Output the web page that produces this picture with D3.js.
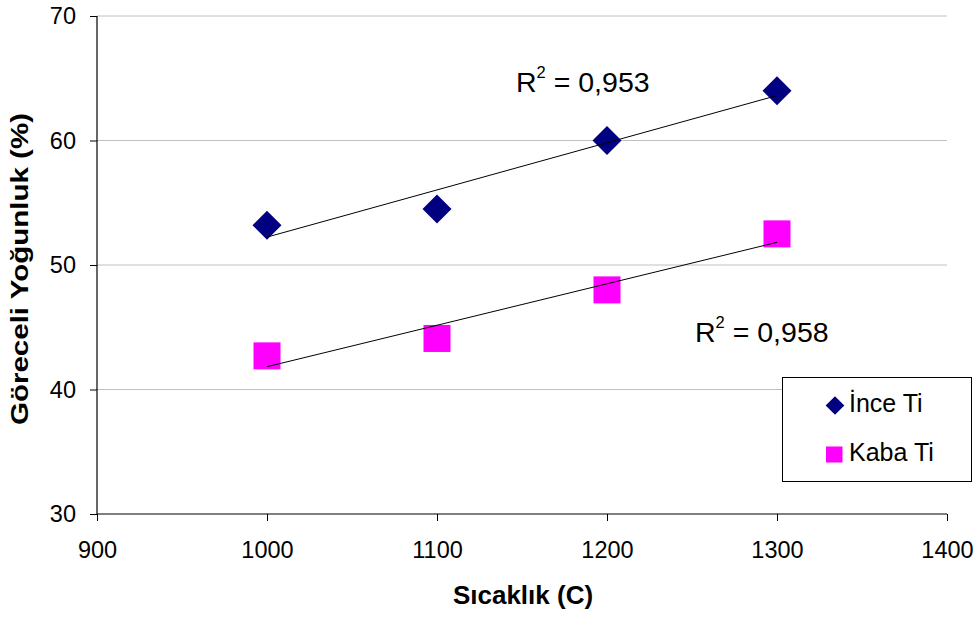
<!DOCTYPE html>
<html>
<head>
<meta charset="utf-8">
<script src="https://cdn.jsdelivr.net/npm/d3@7"></script>
<style>
  html, body { margin: 0; padding: 0; background: #fff; }
  svg { display: block; font-family: "Liberation Sans", Arial, sans-serif; }
</style>
</head>
<body>
<svg id="chart" width="978" height="619"></svg>
<script>
const temperatures = [1000, 1100, 1200, 1300];
const inceTi = [53.2, 54.5, 60.0, 64.0];
const kabaTi = [42.7, 44.1, 48.0, 52.5];
const seriesNames = ["İnce Ti", "Kaba Ti"];
const r2Labels = ["0,953", "0,958"];
const xTicks = [900, 1000, 1100, 1200, 1300, 1400];
const yTicks = [30, 40, 50, 60, 70];

const svg = d3.select("#chart");
const m = { left: 97, right: 947, top: 16, bottom: 514 };
const x = d3.scaleLinear().domain([900, 1400]).range([m.left, m.right]);
const y = d3.scaleLinear().domain([30, 70]).range([m.bottom, m.top]);

// gridlines
svg.append("g").selectAll("line").data(yTicks.filter(d => d > 30)).join("line")
  .attr("x1", m.left).attr("x2", m.right)
  .attr("y1", d => y(d)).attr("y2", d => y(d))
  .attr("stroke", "#c0c0c0").attr("stroke-width", 1);

// axes
const yAxis = svg.append("g").attr("transform", `translate(${m.left},0)`)
  .call(d3.axisLeft(y).tickValues(yTicks).tickSize(7).tickPadding(14).tickFormat(d3.format("d")));
const xAxis = svg.append("g").attr("transform", `translate(0,${m.bottom})`)
  .call(d3.axisBottom(x).tickValues(xTicks).tickSize(7).tickPadding(20).tickFormat(d3.format("d")));
[xAxis, yAxis].forEach(a => {
  a.select(".domain").attr("stroke", "#000").attr("stroke-width", 1.2);
  a.selectAll(".tick line").attr("stroke", "#000");
  a.selectAll("text").attr("font-size", 23.5).attr("fill", "#000")
    .attr("font-family", "Liberation Sans, Arial, sans-serif");
});
xAxis.select(".domain").attr("d", `M${m.left},0H${m.right}`);
yAxis.select(".domain").attr("d", `M0,${m.bottom}V${m.top}`);

// axis titles
svg.append("text").attr("x", 523).attr("y", 604).attr("text-anchor", "middle")
  .attr("font-size", 26).attr("font-weight", "bold").text("Sıcaklık (C)");
svg.append("text").attr("transform", "translate(27.5,269) rotate(-90)").attr("text-anchor", "middle")
  .attr("font-size", 24).attr("font-weight", "bold")
  .attr("textLength", 312).attr("lengthAdjust", "spacingAndGlyphs")
  .text("Göreceli Yoğunluk (%)");

function fit(xs, ys) {
  const mx = d3.mean(xs), my = d3.mean(ys);
  const b = d3.sum(xs, (v, i) => (v - mx) * (ys[i] - my)) / d3.sum(xs, v => (v - mx) ** 2);
  return v => my + b * (v - mx);
}

const diamond = d3.symbol().type(d3.symbolSquare).size(420);
// İnce Ti markers
svg.append("g").selectAll("path").data(temperatures).join("path")
  .attr("d", diamond)
  .attr("transform", (d, i) => `translate(${x(d)},${y(inceTi[i])}) rotate(45)`)
  .attr("fill", "#000080");
// Kaba Ti markers
const sq = 27;
svg.append("g").selectAll("rect").data(temperatures).join("rect")
  .attr("x", d => x(d) - sq / 2).attr("y", (d, i) => y(kabaTi[i]) - sq / 2)
  .attr("width", sq).attr("height", sq).attr("fill", "#ff00ff");

// trend lines
[inceTi, kabaTi].forEach(vals => {
  const f = fit(temperatures, vals);
  const x0 = d3.min(temperatures), x1 = d3.max(temperatures);
  svg.append("line")
    .attr("x1", x(x0)).attr("y1", y(f(x0)))
    .attr("x2", x(x1)).attr("y2", y(f(x1)))
    .attr("stroke", "#000").attr("stroke-width", 1);
});

// R² labels
function r2(xp, yp, val) {
  const t = svg.append("text").attr("x", xp).attr("y", yp).attr("font-size", 28.5);
  t.append("tspan").text("R");
  t.append("tspan").attr("font-size", 16.5).attr("dy", -14).text("2");
  t.append("tspan").attr("dy", 14).text(" = " + val);
}
r2(516, 92, r2Labels[0]);
r2(695, 342, r2Labels[1]);

// legend
const lg = svg.append("g");
lg.append("rect").attr("x", 782.5).attr("y", 377.5).attr("width", 189).attr("height", 104)
  .attr("fill", "#fff").attr("stroke", "#000").attr("stroke-width", 1);
lg.append("path").attr("d", d3.symbol().type(d3.symbolSquare).size(175))
  .attr("transform", "translate(835,405.5) rotate(45)").attr("fill", "#000080");
lg.append("rect").attr("x", 826).attr("y", 446.5).attr("width", 16.5).attr("height", 16).attr("fill", "#ff00ff");
lg.append("text").attr("x", 849).attr("y", 411.5).attr("font-size", 25).text(seriesNames[0]);
lg.append("text").attr("x", 849).attr("y", 461).attr("font-size", 25).text(seriesNames[1]);
</script>
</body>
</html>
